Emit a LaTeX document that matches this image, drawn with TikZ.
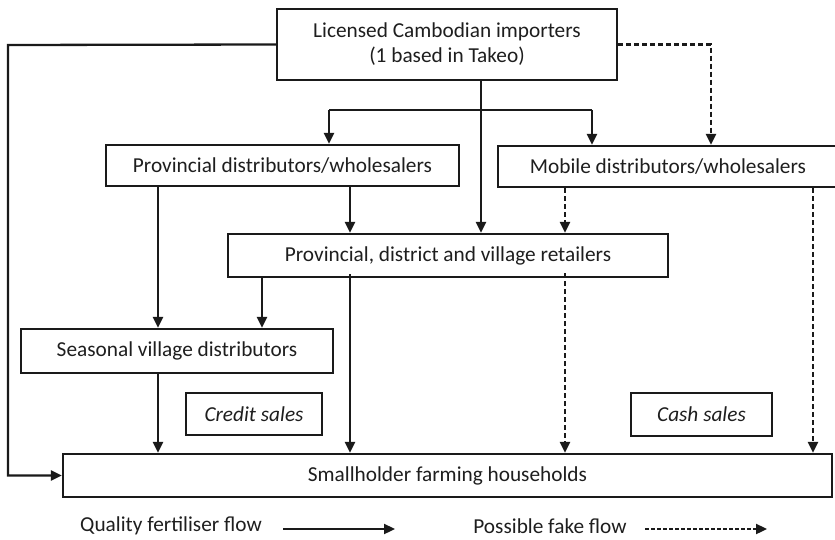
\documentclass[tikz,border=0pt]{standalone}
\usepackage{fontspec}
\setmainfont{Carlito}
\usetikzlibrary{arrows.meta}
\definecolor{ink}{HTML}{1A1A1A}
\definecolor{txt}{HTML}{1E1E1E}
\begin{document}
\begin{tikzpicture}[x=1pt,y=-1pt,
  box/.style={draw=ink,line width=2.3pt,inner sep=0pt,align=center,text=txt,
    font=\fontsize{21.3}{25}\selectfont},
  flow/.style={draw=ink,line width=2.3pt,-{Triangle[width=10pt,length=11pt]}},
  line/.style={draw=ink,line width=2.3pt},
  fake/.style={draw=ink,line width=2.3pt,dash pattern=on 5pt off 3pt,-{Triangle[width=10pt,length=11pt]}},
  lbl/.style={text=txt,font=\fontsize{21.3}{25}\selectfont,inner sep=0pt}]
\useasboundingbox (0,0) rectangle (835,540);
% nodes
\node[box,minimum width=340pt,minimum height=71pt] (imp) at (447,44.5) {Licensed Cambodian importers\\(1 based in Takeo)};
\node[box,minimum width=353pt,minimum height=41pt] (pd) at (282.5,165.5) {Provincial distributors/wholesalers};
\node[box,minimum width=340pt,minimum height=41pt] (mob) at (668,166.5) {Mobile distributors/wholesalers};
\node[box,minimum width=440pt,minimum height=43pt] (ret) at (448,255.5) {Provincial, district and village retailers};
\node[box,minimum width=312pt,minimum height=44pt] (sea) at (177,351) {Seasonal village distributors};
\node[box,minimum width=136pt,minimum height=42pt,font=\fontsize{21.3}{25}\selectfont\itshape] (cred) at (254,414) {Credit sales};
\node[box,minimum width=141pt,minimum height=43pt,font=\fontsize{21.3}{25}\selectfont\itshape] (cash) at (701.5,414.5) {Cash sales};
\node[box,minimum width=769pt,minimum height=43pt] (sh) at (447.5,475.5) {Smallholder farming households};
% helper coordinates
\coordinate (L) at (8,45);
\coordinate (xa) at (158,0);
\coordinate (xb) at (262,0);
\coordinate (xc) at (350,0);
\coordinate (xd) at (481,0);
\coordinate (xe) at (565,0);
\coordinate (xf) at (813,0);
\coordinate (xg) at (711,0);
\coordinate (bl) at (329,110);
\coordinate (br) at (592,110);
% connectors
\draw[flow] (imp.west) -- (L) |- (sh.west);
\draw[flow] (imp.south -| xd) -- (ret.north -| xd);
\draw[line] (bl) -- (br);
\draw[flow] (bl) -- (pd.north -| bl);
\draw[flow] (br) -- (mob.north -| br);
\draw[fake] (imp.east) -| (mob.north -| xg);
\draw[flow] (pd.south -| xa) -- (sea.north -| xa);
\draw[flow] (pd.south -| xc) -- (ret.north -| xc);
\draw[fake] (mob.south -| xe) -- (ret.north -| xe);
\draw[fake] (mob.south -| xf) -- (sh.north -| xf);
\draw[flow] (ret.south -| xb) -- (sea.north -| xb);
\draw[flow] ([yshift=4pt]ret.south -| xc) -- (sh.north -| xc);
\draw[fake] ([yshift=5pt]ret.south -| xe) -- (sh.north -| xe);
\draw[flow] (sea.south -| xa) -- (sh.north -| xa);
% legend
\node[lbl] (q) at (171,526) {Quality fertiliser flow};
\node[lbl] (p) at (550,526) {Possible fake flow};
\coordinate (qa) at (283,529);
\coordinate (qb) at (395,529);
\coordinate (pa) at (645,529);
\coordinate (pb) at (767,529);
\draw[flow] (qa) -- (qb);
\draw[draw=ink,line width=2.3pt,dash pattern=on 4pt off 2pt,-{Triangle[width=10pt,length=11pt]}] (pa) -- (pb);
\end{tikzpicture}
\end{document}
